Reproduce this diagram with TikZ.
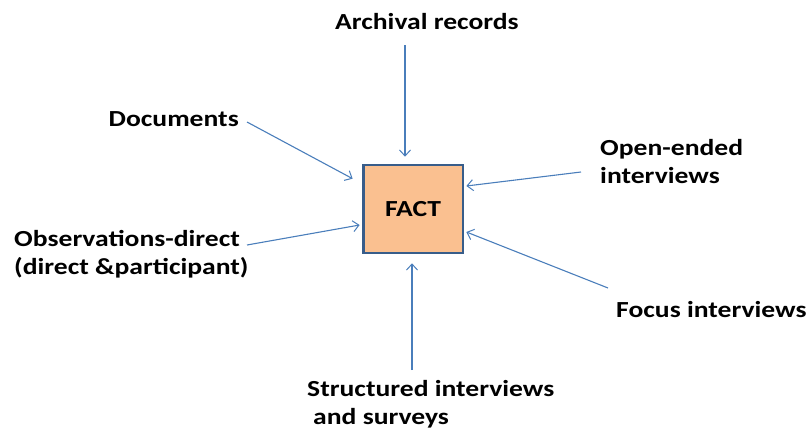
\documentclass[tikz,border=0pt]{standalone}
\usepackage{fontspec}
\usetikzlibrary{arrows.meta}
\setmainfont{Carlito}
\definecolor{arrowblue}{HTML}{4A7EBB}
\definecolor{boxblue}{HTML}{385D8A}
\definecolor{boxfill}{HTML}{FAC090}
\tikzset{
    lbl/.style={font=\fontsize{23}{28}\selectfont\bfseries, xscale=1.2, align=left, inner sep=0pt},
    arr/.style={-{Straight Barb[length=6pt,width=11pt,line width=1pt]}, arrowblue, line width=1.1pt},
}
\begin{document}
\begin{tikzpicture}[x=1pt,y=-1pt]
                \useasboundingbox (0,0) rectangle (811,431);
                \node[lbl, fill=boxfill, draw=boxblue, line width=2.6pt, minimum width=83pt, minimum height=88pt, inner sep=0pt] (fact) at (413,209) {FACT};
                \node[lbl, anchor=center] (arch) at (427,22) {Archival records};
                \node[lbl, anchor=east] (docs) at (239,119) {Documents};
                \node[lbl, anchor=west] (obs) at (14,254) {Observations-direct\\(direct \&participant)};
                \node[lbl, anchor=west] (open) at (600,162) {Open-ended\\interviews};
                \node[lbl, anchor=west] (focus) at (616,310) {Focus interviews};
                \node[lbl, anchor=west] (struct) at (307,404) {Structured interviews\\\hspace*{5pt}and surveys};
                \coordinate (archin) at (405,45);
                \coordinate (docsin) at (247,122);
                \coordinate (obsin) at (247,245);
                \coordinate (openin) at (581,172);
                \coordinate (focusin) at (608,288);
                \coordinate (structin) at (412,370);
                \draw[arr] (archin) -- ([xshift=-8pt,yshift=7pt]fact.north);
                \draw[arr] (docsin) -- ([xshift=-9pt,yshift=-15pt]fact.north west);
                \draw[arr] (obsin) -- ([xshift=-2pt,yshift=-16pt]fact.west);
                \draw[arr] (openin) -- ([xshift=2pt,yshift=23pt]fact.east);
                \draw[arr] (focusin) -- ([xshift=2pt,yshift=-23pt]fact.east);
                \draw[arr] (structin) -- ([xshift=-1pt,yshift=-9pt]fact.south);
            \end{tikzpicture}
\end{document}
